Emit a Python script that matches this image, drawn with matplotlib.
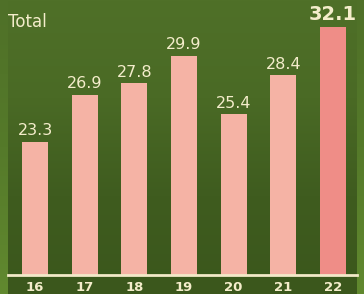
import matplotlib
matplotlib.use("Agg")
import matplotlib.pyplot as plt
import numpy as np
from matplotlib.colors import LinearSegmentedColormap

years = ["16", "17", "18", "19", "20", "21", "22"]
values = [23.3, 26.9, 27.8, 29.9, 25.4, 28.4, 32.1]
title = "Total"

W, H = 364, 294
fig = plt.figure(figsize=(W / 100, H / 100), dpi=100)

# outer background (side strips)
bg_out = fig.add_axes([0, 0, 1, 1])
side = LinearSegmentedColormap.from_list("side", ["#4F7028", "#557A2A", "#61892F"])
bg_out.imshow(np.linspace(0, 1, 256).reshape(-1, 1), aspect="auto", cmap=side,
              extent=[0, 1, 0, 1], origin="upper")
bg_out.axis("off")

# inner panel gradient
left, right = 8 / W, 357 / W
bg_in = fig.add_axes([left, 0, right - left, 1])
inner = LinearSegmentedColormap.from_list("inner", ["#4F7028", "#4A6A25", "#3F5C1F", "#3B571C"])
bg_in.imshow(np.linspace(0, 1, 256).reshape(-1, 1), aspect="auto", cmap=inner,
             extent=[0, 1, 0, 1], origin="upper")
bg_in.axis("off")

base = 19 / H
ax = fig.add_axes([left, base, right - left, 1 - base])
ax.set_facecolor("none")
x = np.arange(len(years))
colors = ["#F5B3A5"] * (len(years) - 1) + ["#EF8D87"]
ax.bar(x, values, width=0.52, color=colors, bottom=0)
ax.set_xlim(-0.544, 6.483)
ax.set_ylim(13.03, 34.2)

cream = "#F4EDCB"
for i, v in enumerate(values):
    last = i == len(values) - 1
    ax.annotate(f"{v:.1f}", (i, v), xytext=(0, 2.5), textcoords="offset points",
                ha="center", va="bottom", color=cream,
                fontsize=14 if last else 11.5,
                fontweight="bold" if last else "normal")

for s in ["top", "left", "right"]:
    ax.spines[s].set_visible(False)
ax.spines["bottom"].set_color("#F3E9C8")
ax.spines["bottom"].set_linewidth(2)
ax.set_yticks([])
ax.set_xticks(x)
ax.set_xticklabels(years, color=cream, fontsize=9.5, fontweight="bold")
ax.tick_params(axis="x", length=0, pad=4)

fig.text(8 / W, 1 - 22 / H, title, color=cream, fontsize=12, ha="left", va="center",
         family=["Liberation Sans Narrow", "DejaVu Sans"])

fig.savefig("out.png", dpi=100)
